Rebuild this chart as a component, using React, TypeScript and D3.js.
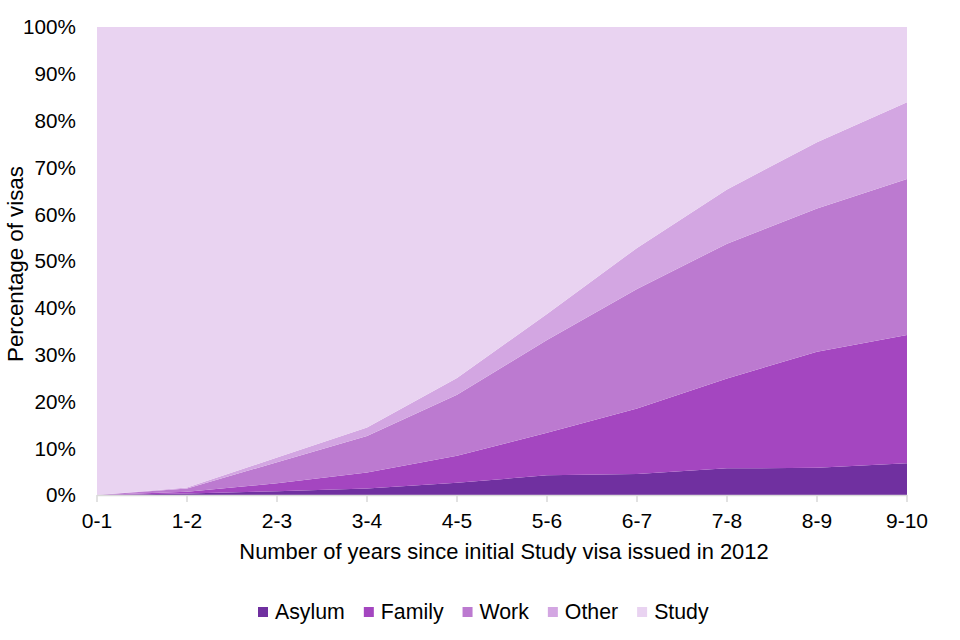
import React, { useEffect, useRef } from "react";
import * as d3 from "d3";

const categories = ["0-1", "1-2", "2-3", "3-4", "4-5", "5-6", "6-7", "7-8", "8-9", "9-10"];
const asylum = [0, 0.3, 0.8, 1.4, 2.6, 4.2, 4.5, 5.7, 5.8, 6.8];
const family = [0, 0.4, 1.7, 3.4, 5.8, 9.1, 14.0, 19.2, 24.8, 27.4];
const work = [0, 0.7, 4.5, 7.8, 13.0, 19.8, 25.5, 28.8, 30.6, 33.3];
const other = [0, 0.2, 1.0, 1.8, 3.6, 5.6, 8.8, 11.6, 14.2, 16.4];
const study = [100, 98.4, 92.0, 85.6, 75.0, 61.3, 47.2, 34.7, 24.6, 16.1];
const seriesNames = ["Asylum", "Family", "Work", "Other", "Study"];
const seriesColors = ["#7030A0", "#A446C0", "#BC7AD0", "#D3A6E2", "#E9D3F1"];
const yTicks = [0, 10, 20, 30, 40, 50, 60, 70, 80, 90, 100];

export default function App() {
  const ref = useRef<SVGSVGElement>(null);

  useEffect(() => {
    const svg = d3.select(ref.current);
    svg.selectAll("*").remove();
    const left = 97, right = 907, top = 27, bottom = 495;
    const font = "'Liberation Sans', Arial, sans-serif";

    const values = [asylum, family, work, other, study];
    const rows = categories.map((c, i) => {
      const r: any = { cat: c };
      seriesNames.forEach((s, k) => (r[s] = values[k][i]));
      return r;
    });

    const x = d3.scalePoint<string>().domain(categories).range([left, right]);
    const y = d3.scaleLinear().domain([0, 100]).range([bottom, top]);

    const stacked = d3.stack<any>().keys(seriesNames)(rows);
    const area = d3
      .area<any>()
      .x((d) => x(d.data.cat) as number)
      .y0((d) => y(d[0]))
      .y1((d) => y(Math.min(100, d[1])));

    svg
      .append("g")
      .selectAll("path")
      .data(stacked)
      .join("path")
      .attr("d", area as any)
      .attr("fill", (_d, i) => seriesColors[i]);

    // x axis
    const xa = svg.append("g");
    xa.append("line")
      .attr("x1", left)
      .attr("x2", right)
      .attr("y1", bottom + 0.5)
      .attr("y2", bottom + 0.5)
      .attr("stroke", "#D9D9D9")
      .attr("stroke-width", 1.5);
    xa.selectAll("line.tick")
      .data(categories)
      .join("line")
      .attr("class", "tick")
      .attr("x1", (d) => x(d) as number)
      .attr("x2", (d) => x(d) as number)
      .attr("y1", bottom)
      .attr("y2", bottom + 7)
      .attr("stroke", "#D9D9D9")
      .attr("stroke-width", 1.5);
    xa.selectAll("text")
      .data(categories)
      .join("text")
      .attr("x", (d) => x(d) as number)
      .attr("y", 528)
      .attr("text-anchor", "middle")
      .attr("font-family", font)
      .attr("font-size", 21)
      .attr("fill", "#000")
      .text((d) => d);

    // y axis labels
    svg
      .append("g")
      .selectAll("text")
      .data(yTicks)
      .join("text")
      .attr("x", 76)
      .attr("y", (d) => y(d))
      .attr("dy", "0.36em")
      .attr("text-anchor", "end")
      .attr("font-family", font)
      .attr("font-size", 20.7)
      .attr("fill", "#000")
      .text((d) => d + "%");

    // axis titles
    svg
      .append("text")
      .attr("x", 504)
      .attr("y", 559)
      .attr("text-anchor", "middle")
      .attr("font-family", font)
      .attr("font-size", 21.9)
      .attr("fill", "#000")
      .text("Number of years since initial Study visa issued in 2012");
    svg
      .append("text")
      .attr("transform", `translate(23,264) rotate(-90)`)
      .attr("text-anchor", "middle")
      .attr("font-family", font)
      .attr("font-size", 22.3)
      .attr("fill", "#000")
      .text("Percentage of visas");

    // legend
    const lg = svg.append("g");
    const items = lg.selectAll("g").data(seriesNames).join("g");
    items
      .append("rect")
      .attr("width", 10)
      .attr("height", 10)
      .attr("y", 607)
      .attr("fill", (_d, i) => seriesColors[i]);
    const texts = items
      .append("text")
      .attr("y", 619)
      .attr("font-family", font)
      .attr("font-size", 21.3)
      .attr("fill", "#000")
      .text((d) => d);
    const widths: number[] = [];
    texts.each(function () {
      widths.push((this as SVGTextElement).getComputedTextLength());
    });
    const sq = 10, gap1 = 7, gap2 = 19;
    let cx = 258;
    items.each(function (_d, i) {
      const g = d3.select(this);
      g.select("rect").attr("x", cx);
      g.select("text").attr("x", cx + sq + gap1);
      cx += sq + gap1 + widths[i] + gap2;
    });
  }, []);

  return <svg ref={ref} width={960} height={640} style={{ display: "block", position: "absolute", left: 0, top: 0 }} />;
}
